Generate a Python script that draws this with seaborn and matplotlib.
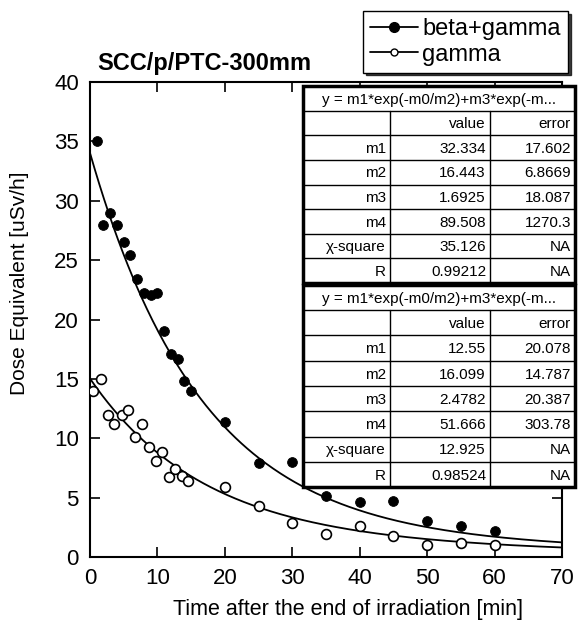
import numpy as np
import pandas as pd
import seaborn as sns
import matplotlib.pyplot as plt
from matplotlib.lines import Line2D
from matplotlib.patches import Rectangle

time_bg = [1, 2, 3, 4, 5, 6, 7, 8, 9, 10, 11, 12, 13, 14, 15, 20, 25, 30, 35, 40, 45, 50, 55, 60]
dose_bg = [35.0, 28.0, 29.0, 28.0, 26.5, 25.4, 23.4, 22.2, 22.1, 22.2, 19.0, 17.1, 16.7, 14.8, 14.0,
           11.4, 7.9, 8.0, 5.1, 4.6, 4.7, 3.0, 2.6, 2.15]
time_g = [0.5, 1.6, 2.6, 3.6, 4.7, 5.7, 6.6, 7.7, 8.7, 9.8, 10.7, 11.7, 12.6, 13.6, 14.5, 20, 25, 30, 35, 40, 45, 50, 55, 60]
dose_g = [14.0, 15.0, 12.0, 11.2, 12.0, 12.4, 10.1, 11.2, 9.3, 8.1, 8.85, 6.7, 7.45, 6.8, 6.4,
          5.9, 4.3, 2.9, 1.9, 2.6, 1.75, 1.05, 1.15, 1.05]

# fit results shown in the two tables
formula = "y = m1*exp(-m0/m2)+m3*exp(-m..."
param_names = ["m1", "m2", "m3", "m4", "\u03c7-square", "R"]
bg_value = ["32.334", "16.443", "1.6925", "89.508", "35.126", "0.99212"]
bg_error = ["17.602", "6.8669", "18.087", "1270.3", "NA", "NA"]
g_value = ["12.55", "16.099", "2.4782", "51.666", "12.925", "0.98524"]
g_error = ["20.078", "14.787", "20.387", "303.78", "NA", "NA"]

W, H = 578, 643

sns.set_style("ticks")
plt.rcParams['font.family'] = ['Liberation Sans', 'DejaVu Sans']
plt.rcParams.update({"text.color": "black", "axes.labelcolor": "black",
                     "xtick.color": "black", "ytick.color": "black"})

fig = plt.figure(figsize=(W / 100, H / 100), dpi=100)
ax = fig.add_axes([90 / W, 1 - 557 / H, 472 / W, 475 / H])


def double_exp(t, p):
    m1, m2, m3, m4 = [float(v) for v in p[:4]]
    return m1 * np.exp(-t / m2) + m3 * np.exp(-t / m4)


t_fit = np.linspace(0, 70, 400)
sns.lineplot(x=t_fit, y=double_exp(t_fit, bg_value), color="black", lw=1.3, ax=ax, zorder=2)
sns.lineplot(x=t_fit, y=double_exp(t_fit, g_value), color="black", lw=1.3, ax=ax, zorder=2)

df_bg = pd.DataFrame({"t": time_bg, "dose": dose_bg})
df_g = pd.DataFrame({"t": time_g, "dose": dose_g})
sns.scatterplot(data=df_bg, x="t", y="dose", color="black", edgecolor="black", s=50, ax=ax, zorder=3)
sns.scatterplot(data=df_g, x="t", y="dose", color="white", edgecolor="black", linewidth=1.2,
                s=50, ax=ax, zorder=3)

ax.set_xlim(0, 70)
ax.set_ylim(0, 40)
ax.set_xticks(range(0, 71, 10))
ax.set_yticks(range(0, 41, 5))
ax.tick_params(direction="in", length=7, width=1.2, top=True, right=True, labelsize=16, pad=8,
               colors="black")
ax.set_xlabel("")
ax.set_ylabel("")
for sp in ax.spines.values():
    sp.set_linewidth(1.5)
    sp.set_color("black")

fig.text(97 / W, 1 - 70 / H, "SCC/p/PTC-300mm", fontsize=17, fontweight="bold", va="baseline")
fig.text(20 / W, 1 - 283 / H, "Dose Equivalent [uSv/h]", fontsize=15, rotation=90,
         ha="center", va="center")
fig.text(348 / W, 1 - 609 / H, "Time after the end of irradiation [min]", fontsize=15.5,
         ha="center", va="center")

h1 = Line2D([], [], color="black", lw=1.3, marker="o", markersize=7, markerfacecolor="black")
h2 = Line2D([], [], color="black", lw=1.3, marker="o", markersize=5, markerfacecolor="white")
fig.legend([h1, h2], ["beta+gamma", "gamma"], loc="upper right",
           bbox_to_anchor=(568 / W, 1 - 11 / H), fontsize=17, frameon=True, fancybox=False,
           edgecolor="black", framealpha=1, shadow={"color": "black", "alpha": 0.75},
           handlelength=2.0, handletextpad=0.2, borderpad=0.3, labelspacing=0.15,
           borderaxespad=0)


def draw_table(top_px, bottom_px, values, errors):
    left, right = 303, 575
    w = right - left
    tax = fig.add_axes([left / W, 1 - bottom_px / H, w / W, (bottom_px - top_px) / H])
    tax.set_xlim(0, w)
    tax.set_ylim(8, 0)
    tax.axis("off")
    cols = [0, 87, 187, w]
    tax.add_patch(Rectangle((0, 0), w, 8, facecolor="white", edgecolor="none", zorder=0))
    for r in range(1, 8):
        tax.plot([0, w], [r, r], color="black", lw=1.0, zorder=1)
    for c in cols[1:3]:
        tax.plot([c, c], [1, 8], color="black", lw=1.0, zorder=1)
    tax.add_patch(Rectangle((0, 0), w, 8, facecolor="none", edgecolor="black", lw=2.5,
                            zorder=2, clip_on=False))
    tax.text(w / 2, 0.55, formula, ha="center", va="center", fontsize=11)
    tax.text(cols[2] - 4, 1.55, "value", ha="right", va="center", fontsize=11)
    tax.text(cols[3] - 4, 1.55, "error", ha="right", va="center", fontsize=11)
    for i, name in enumerate(param_names):
        y = i + 2.55
        tax.text(cols[1] - 4, y, name, ha="right", va="center", fontsize=11)
        tax.text(cols[2] - 4, y, values[i], ha="right", va="center", fontsize=11)
        tax.text(cols[3] - 4, y, errors[i], ha="right", va="center", fontsize=11)


draw_table(86, 283, bg_value, bg_error)
draw_table(285, 487, g_value, g_error)

fig.savefig("out.png", dpi=100)
